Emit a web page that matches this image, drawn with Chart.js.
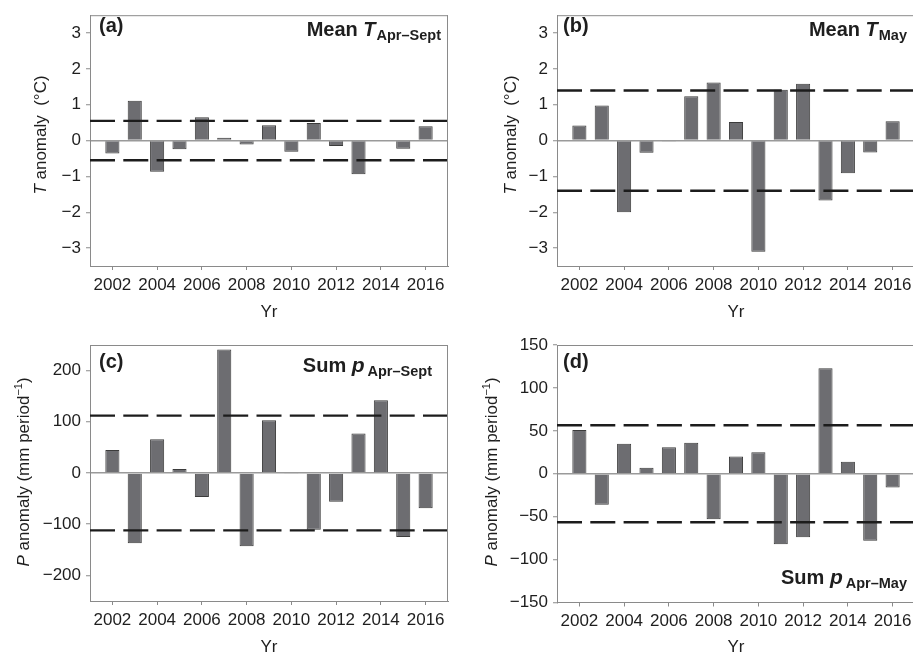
<!DOCTYPE html>
<html>
<head>
<meta charset="utf-8">
<script src="https://cdn.jsdelivr.net/npm/chart.js@4.4.1/dist/chart.umd.min.js"></script>
<style>
  html, body { margin: 0; padding: 0; background: #fff; width: 913px; height: 654px; overflow: hidden; }
  .panel { position: absolute; }
  canvas { display: block; }
</style>
</head>
<body>
<div class="panel" style="left:0px;top:0px"><canvas id="panelA" width="456" height="327"></canvas></div>
<div class="panel" style="left:456px;top:0px"><canvas id="panelB" width="470" height="327"></canvas></div>
<div class="panel" style="left:0px;top:327px"><canvas id="panelC" width="456" height="327"></canvas></div>
<div class="panel" style="left:456px;top:327px"><canvas id="panelD" width="470" height="327"></canvas></div>
<script>
// Years on the x axis and the labelled tick years
const years = [2002, 2003, 2004, 2005, 2006, 2007, 2008, 2009, 2010, 2011, 2012, 2013, 2014, 2015, 2016];
const yearTicks = [2002, 2004, 2006, 2008, 2010, 2012, 2014, 2016];

// (a) mean temperature anomaly, April–September (°C)
const tempAprSept = [-0.36, 1.11, -0.87, -0.24, 0.65, 0.08, -0.11, 0.43, -0.31, 0.49, -0.15, -0.94, -0.02, -0.23, 0.40];
const tempAprSeptBand = [-0.55, 0.55];

// (b) mean temperature anomaly, May (°C)
const tempMay = [0.42, 0.98, -2.00, -0.34, -0.01, 1.24, 1.62, 0.52, -3.10, 1.42, 1.59, -1.67, -0.91, -0.33, 0.54];
const tempMayBand = [-1.40, 1.40];

// (c) precipitation sum anomaly, April–September (mm per period)
const precAprSept = [45, -137, 66, 8, -47, 241, -143, 103, -2, -111, -56, 77, 142, -125, -69];
const precAprSeptBand = [-112, 112];

// (d) precipitation sum anomaly, April–May (mm per period)
const precAprMay = [51, -36, 35, 7, 31, 36, -53, 20, 25, -82, -74, 123, 14, -78, -16];
const precAprMayBand = [-56.5, 56.5];

// y tick values
const tempTicks = [-3, -2, -1, 0, 1, 2, 3];
const precTicksC = [-200, -100, 0, 100, 200];
const precTicksD = [-150, -100, -50, 0, 50, 100, 150];

const FONT = '"Liberation Sans", Arial, Helvetica, sans-serif';
const TEXT = '#1e1e1e';
const AXIS = '#8a8a8a';

function drawRuns(ctx, runs, x, y, align) {
  let total = 0;
  runs.forEach(r => { ctx.font = r.font; r.w = ctx.measureText(r.text).width; total += r.w + (r.gap || 0); });
  let cx = align === 'right' ? x - total : align === 'center' ? x - total / 2 : x;
  runs.forEach(r => {
    ctx.font = r.font;
    ctx.fillText(r.text, cx, y + (r.dy || 0));
    cx += r.w + (r.gap || 0);
  });
}

function decorPlugin(cfg) {
  return {
    id: 'decor',
    afterDraw(chart) {
      const ctx = chart.ctx;
      const a = chart.chartArea;
      ctx.save();
      // top and right frame lines
      ctx.strokeStyle = AXIS;
      ctx.lineWidth = 1;
      ctx.beginPath();
      ctx.moveTo(a.left, a.top + 0.5);
      ctx.lineTo(a.right, a.top + 0.5);
      ctx.moveTo(a.right - 0.5, a.top);
      ctx.lineTo(a.right - 0.5, a.bottom);
      ctx.stroke();

      ctx.fillStyle = TEXT;
      ctx.textAlign = 'left';
      ctx.textBaseline = 'alphabetic';
      // panel letter
      ctx.font = 'bold 20px ' + FONT;
      ctx.fillText(cfg.letter, cfg.letterX, cfg.letterY);
      // panel title
      drawRuns(ctx, cfg.title, cfg.titleX, cfg.titleY, 'right');
      // x axis title
      ctx.font = '17px ' + FONT;
      ctx.textAlign = 'center';
      ctx.textBaseline = 'middle';
      ctx.fillText('Yr', (a.left + a.right) / 2, cfg.xTitleY);
      // y axis title (rotated)
      ctx.textAlign = 'left';
      ctx.textBaseline = 'alphabetic';
      ctx.translate(cfg.yTitleX, cfg.yTitleY);
      ctx.rotate(-Math.PI / 2);
      drawRuns(ctx, cfg.yTitle, 0, 6, 'center');
      ctx.restore();
    }
  };
}

function makePanel(id, p) {
  const canvas = document.getElementById(id);
  const W = canvas.width, H = canvas.height;
  const dashLine = v => ({
    type: 'line',
    data: [{ x: 2001, y: v }, { x: 2017, y: v }],
    borderColor: '#1c1c1c',
    borderWidth: 2.4,
    borderDash: [25, 8.3],
    pointRadius: 0,
    fill: false,
    order: 1
  });
  return new Chart(canvas.getContext('2d'), {
    type: 'bar',
    data: {
      datasets: [
        dashLine(p.band[1]),
        dashLine(p.band[0]),
        {
          type: 'bar',
          data: years.map((yr, i) => ({ x: yr, y: p.values[i] })),
          backgroundColor: '#6d6d71',
          borderColor: '#3b3b3b',
          borderWidth: 1,
          categoryPercentage: 1,
          barPercentage: 0.63,
          order: 2
        }
      ]
    },
    options: {
      responsive: false,
      animation: false,
      devicePixelRatio: 1,
      layout: { padding: { left: 0, top: p.area.t, right: W - p.area.r, bottom: 0 } },
      plugins: { legend: { display: false }, tooltip: { enabled: false } },
      scales: {
        x: {
          type: 'linear',
          min: 2001,
          max: 2017,
          offset: false,
          afterBuildTicks: s => { s.ticks = yearTicks.map(v => ({ value: v })); },
          afterFit: s => { s.height = H - p.area.b; },
          grid: { display: true, offset: false, drawOnChartArea: false, drawTicks: true, tickLength: 4, tickColor: AXIS },
          border: { display: true, color: AXIS, width: 1 },
          ticks: {
            font: { family: FONT, size: 17 },
            color: TEXT,
            padding: 5,
            maxRotation: 0,
            autoSkip: false,
            callback: v => String(v)
          }
        },
        y: {
          type: 'linear',
          min: p.yMin,
          max: p.yMax,
          afterBuildTicks: s => { s.ticks = p.yTicks.map(v => ({ value: v })); },
          afterFit: s => { s.width = p.area.l; },
          grid: {
            color: c => (c.tick && c.tick.value === 0 ? '#9a9a9a' : 'rgba(0,0,0,0)'),
            lineWidth: 1.5,
            drawTicks: true,
            tickLength: 4,
            tickColor: AXIS,
            tickWidth: 1
          },
          border: { display: true, color: AXIS, width: 1 },
          ticks: {
            font: { family: FONT, size: 17 },
            color: TEXT,
            padding: 5,
            autoSkip: false,
            callback: v => (v < 0 ? '\u2212' + Math.abs(v) : String(v))
          }
        }
      }
    },
    plugins: [decorPlugin(p.decor)]
  });
}

const tYTitle = [
  { text: 'T', font: 'italic 17px ' + FONT },
  { text: ' anomaly  (°C)', font: '17px ' + FONT }
];
const pYTitle = [
  { text: 'P', font: 'italic 17px ' + FONT },
  { text: ' anomaly (mm period', font: '17px ' + FONT },
  { text: '\u22121', font: '11px ' + FONT, dy: -7 },
  { text: ')', font: '17px ' + FONT }
];

makePanel('panelA', {
  values: tempAprSept, band: tempAprSeptBand, yMin: -3.5, yMax: 3.5, yTicks: tempTicks,
  area: { l: 90, t: 9, r: 448, b: 266 },
  decor: {
    letter: '(a)', letterX: 99, letterY: 32,
    title: [
      { text: 'Mean ', font: 'bold 20px ' + FONT },
      { text: 'T', font: 'italic bold 20px ' + FONT, gap: 1 },
      { text: 'Apr\u2013Sept', font: 'bold 14.5px ' + FONT, dy: 4 }
    ],
    titleX: 441, titleY: 36,
    xTitleY: 312, yTitleX: 40, yTitleY: 135, yTitle: tYTitle
  }
});

makePanel('panelB', {
  values: tempMay, band: tempMayBand, yMin: -3.5, yMax: 3.5, yTicks: tempTicks,
  area: { l: 101, t: 9, r: 459, b: 266 },
  decor: {
    letter: '(b)', letterX: 107, letterY: 32,
    title: [
      { text: 'Mean ', font: 'bold 20px ' + FONT },
      { text: 'T', font: 'italic bold 20px ' + FONT, gap: 1 },
      { text: 'May', font: 'bold 14.5px ' + FONT, dy: 4 }
    ],
    titleX: 451, titleY: 36,
    xTitleY: 312, yTitleX: 54, yTitleY: 135, yTitle: tYTitle
  }
});

makePanel('panelC', {
  values: precAprSept, band: precAprSeptBand, yMin: -250, yMax: 250, yTicks: precTicksC,
  area: { l: 90, t: 18, r: 448, b: 274 },
  decor: {
    letter: '(c)', letterX: 99, letterY: 41,
    title: [
      { text: 'Sum ', font: 'bold 20px ' + FONT },
      { text: 'p', font: 'italic bold 21px ' + FONT, gap: 3 },
      { text: 'Apr\u2013Sept', font: 'bold 14.5px ' + FONT, dy: 4 }
    ],
    titleX: 432, titleY: 45,
    xTitleY: 320, yTitleX: 23, yTitleY: 145, yTitle: pYTitle
  }
});

makePanel('panelD', {
  values: precAprMay, band: precAprMayBand, yMin: -150, yMax: 150, yTicks: precTicksD,
  area: { l: 101, t: 18, r: 459, b: 275.5 },
  decor: {
    letter: '(d)', letterX: 107, letterY: 41,
    title: [
      { text: 'Sum ', font: 'bold 20px ' + FONT },
      { text: 'p', font: 'italic bold 21px ' + FONT, gap: 3 },
      { text: 'Apr\u2013May', font: 'bold 14.5px ' + FONT, dy: 4 }
    ],
    titleX: 451, titleY: 257,
    xTitleY: 320, yTitleX: 35, yTitleY: 145, yTitle: pYTitle
  }
});
</script>
</body>
</html>
